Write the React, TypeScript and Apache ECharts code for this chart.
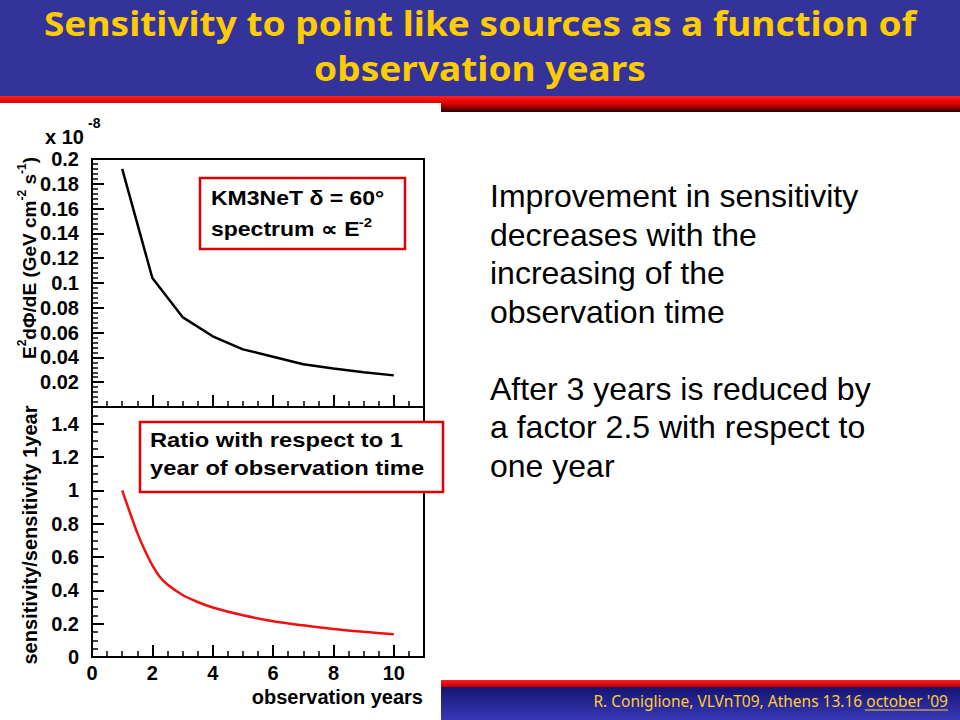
import React, { useEffect, useRef } from "react";
import * as echarts from "echarts";

// ---- data ----
const years = [1, 2, 3, 4, 5, 6, 7, 8, 9, 10];
const sensitivity = [0.192, 0.104, 0.0725, 0.057, 0.0465, 0.0405, 0.0345, 0.031, 0.028, 0.0255];
const ratioYears = [1, 1.25, 1.5, 1.75, 2, 2.25, 2.5, 3, 3.5, 4, 5, 6, 7, 8, 9, 10];
const ratio = [1.0, 0.87, 0.745, 0.64, 0.55, 0.48, 0.435, 0.372, 0.33, 0.297, 0.25, 0.215, 0.19, 0.168, 0.151, 0.136];
const xRange = [0, 11];
const upperYRange = [0, 0.2];
const lowerYRange = [0, 1.5];

const titleLines = ["Sensitivity to point like sources as a function of", "observation years"];
const bodyText = [
  "Improvement in sensitivity",
  "decreases with the",
  "increasing of the",
  "observation time",
  "",
  "After 3 years is reduced by",
  "a factor 2.5 with respect to",
  "one year",
];
const footerMain = "R. Coniglione, VLVnT09, Athens 13.16 ";
const footerUnderlined = "october '09";

const SANS = "'Liberation Sans', Arial, Helvetica, sans-serif";
const GL = 92, GW = 332;
const G1T = 159, G1H = 248;
const G2T = 407, G2H = 250;

const trim = (v: number, d: number) => String(parseFloat(v.toFixed(d)));

export default function App() {
  const ref = useRef<HTMLDivElement>(null);
  useEffect(() => {
    if (!ref.current) return;
    const chart = echarts.init(ref.current, null, { renderer: "svg" });

    const tickStyle = { color: "#000", width: 1.5 };
    const minorX = (gi: number) => ({
      gridIndex: gi, type: "value", position: "bottom", min: xRange[0], max: xRange[1], interval: 0.5,
      axisLine: { show: false }, axisTick: { show: true, inside: true, length: 6, lineStyle: tickStyle },
      axisLabel: { show: false }, splitLine: { show: false },
    });
    const majorX = (gi: number, labels: boolean) => ({
      gridIndex: gi, type: "value", position: "bottom", min: xRange[0], max: xRange[1], interval: 2,
      axisLine: { show: false }, axisTick: { show: true, inside: true, length: 12, lineStyle: { color: "#000", width: 2 } },
      axisLabel: {
        show: labels, showMaxLabel: false, margin: 6, fontSize: 20, fontWeight: "bold", color: "#000", fontFamily: SANS,
        formatter: (v: number) => (v <= 10 ? String(v) : ""),
      },
      splitLine: { show: false },
    });

    const footerFont = "15.5px 'Noto Sans', sans-serif";
    const ulWidth = echarts.format.getTextRect ? 0 : 0;
    void ulWidth;

    const option: any = {
      animation: false,
      backgroundColor: "#fff",
      grid: [
        { left: GL, top: G1T, width: GW, height: G1H, show: true, borderColor: "#000", borderWidth: 2, backgroundColor: "transparent" },
        { left: GL, top: G2T, width: GW, height: G2H, show: true, borderColor: "#000", borderWidth: 2, backgroundColor: "transparent" },
      ],
      xAxis: [minorX(0), majorX(0, false), minorX(1), majorX(1, true)],
      yAxis: [
        {
          gridIndex: 0, type: "value", min: upperYRange[0], max: upperYRange[1], interval: 0.02,
          axisLine: { show: false },
          axisTick: { show: true, inside: true, length: 12, lineStyle: { color: "#000", width: 2 } },
          minorTick: { show: true, splitNumber: 5, length: 6, lineStyle: tickStyle },
          axisLabel: {
            margin: 13, fontSize: 20, fontWeight: "bold", color: "#000", fontFamily: SANS,
            formatter: (v: number) => (v === 0 ? "" : trim(v, 3)),
          },
          splitLine: { show: false },
        },
        {
          gridIndex: 1, type: "value", min: lowerYRange[0], max: lowerYRange[1], interval: 0.2,
          axisLine: { show: false },
          axisTick: { show: true, inside: true, length: 12, lineStyle: { color: "#000", width: 2 } },
          minorTick: { show: true, splitNumber: 4, length: 6, lineStyle: tickStyle },
          axisLabel: {
            margin: 13, fontSize: 20, fontWeight: "bold", color: "#000", fontFamily: SANS, showMaxLabel: false,
            formatter: (v: number) => trim(v, 2),
          },
          splitLine: { show: false },
        },
      ],
      series: [
        {
          type: "line", xAxisIndex: 0, yAxisIndex: 0, showSymbol: false, symbol: "none",
          data: years.map((x, i) => [x, sensitivity[i]]),
          lineStyle: { color: "#000", width: 2.5 },
        },
        {
          type: "line", xAxisIndex: 2, yAxisIndex: 1, showSymbol: false, symbol: "none", smooth: 0.25,
          data: ratioYears.map((x, i) => [x, ratio[i]]),
          lineStyle: { color: "#ee1111", width: 2.5 },
        },
      ],
      graphic: [
        // header
        { type: "rect", shape: { x: 0, y: 0, width: 960, height: 96 }, style: { fill: "#333399" }, z: 1 },
        {
          type: "rect", shape: { x: 0, y: 96, width: 960, height: 7 }, z: 1,
          style: { fill: new echarts.graphic.LinearGradient(0, 0, 0, 1, [{ offset: 0, color: "#ff2020" }, { offset: 1, color: "#dd0000" }]) },
        },
        {
          type: "rect", shape: { x: 441, y: 103, width: 519, height: 9 }, z: 1,
          style: { fill: new echarts.graphic.LinearGradient(0, 0, 0, 1, [{ offset: 0, color: "#ee0000" }, { offset: 1, color: "#2a0000" }]) },
        },
        {
          type: "text", x: 480, y: 23, z: 2, scaleX: 1.09,
          style: { text: titleLines[0], fill: "#ffcc00", font: "bold 34px 'Noto Sans', sans-serif", align: "center", verticalAlign: "middle" },
        },
        {
          type: "text", x: 480, y: 68, z: 2, scaleX: 1.09,
          style: { text: titleLines[1], fill: "#ffcc00", font: "bold 34px 'Noto Sans', sans-serif", align: "center", verticalAlign: "middle" },
        },
        // footer
        {
          type: "rect", shape: { x: 441, y: 680, width: 519, height: 7 }, z: 1,
          style: { fill: new echarts.graphic.LinearGradient(0, 0, 0, 1, [{ offset: 0, color: "#ff2020" }, { offset: 1, color: "#bb0000" }]) },
        },
        {
          type: "rect", shape: { x: 441, y: 687, width: 519, height: 33 }, z: 1,
          style: { fill: new echarts.graphic.LinearGradient(0, 0, 0, 1, [{ offset: 0, color: "#141470" }, { offset: 1, color: "#3838b8" }]) },
        },
        {
          type: "text", x: 948, y: 701, z: 2,
          style: { text: footerMain + footerUnderlined, align: "right", verticalAlign: "middle", fill: "#ffcc33", font: footerFont },
        },
        { type: "line", z: 2, shape: { x1: 865, y1: 710, x2: 948, y2: 710 }, style: { stroke: "#ffcc33", lineWidth: 1 } },
        // x 10^-8
        { type: "text", x: 45, y: 137, z: 5, style: { text: "x 10", fill: "#000", font: "bold 20px " + SANS, verticalAlign: "middle" } },
        { type: "text", x: 88, y: 123, z: 5, style: { text: "-8", fill: "#000", font: "bold 14px " + SANS, verticalAlign: "middle" } },
        // axis titles
        {
          type: "text", x: 29, y: 258, rotation: Math.PI / 2, z: 5,
          style: {
            text: "{m|E}{s|2}{m|dΦ/dE (GeV cm}{s|-2}{m| s}{s|-1}{m|)}", align: "center", verticalAlign: "middle",
            rich: {
              m: { fontSize: 19, fontWeight: "bold", fontFamily: SANS, fill: "#000", lineHeight: 26 },
              s: { fontSize: 12, fontWeight: "bold", fontFamily: SANS, fill: "#000", lineHeight: 12, verticalAlign: "top" },
            },
          },
        },
        {
          type: "text", x: 30, y: 535, rotation: Math.PI / 2, z: 5,
          style: { text: "sensitivity/sensitivity 1year", fill: "#000", font: "bold 20px " + SANS, align: "center", verticalAlign: "middle" },
        },
        {
          type: "text", x: 423, y: 697, z: 5,
          style: { text: "observation years", fill: "#000", font: "bold 20px " + SANS, align: "right", verticalAlign: "middle" },
        },
        // legend box 1
        { type: "rect", z: 20, shape: { x: 200, y: 178, width: 205, height: 71 }, style: { fill: "#fff", stroke: "#e00000", lineWidth: 2.5 } },
        {
          type: "text", z: 21, x: 211, y: 198, scaleX: 1.15,
          style: { text: "KM3NeT δ = 60°", fill: "#000", font: "bold 20px " + SANS, verticalAlign: "middle" },
        },
        {
          type: "text", z: 21, x: 211, y: 229, scaleX: 1.15,
          style: {
            text: "{m|spectrum ∝ E}{s|-2}", verticalAlign: "middle",
            rich: {
              m: { fontSize: 20, fontWeight: "bold", fontFamily: SANS, fill: "#000", lineHeight: 26 },
              s: { fontSize: 13, fontWeight: "bold", fontFamily: SANS, fill: "#000", lineHeight: 13, verticalAlign: "top" },
            },
          },
        },
        // legend box 2
        { type: "rect", z: 20, shape: { x: 140, y: 422, width: 303, height: 70 }, style: { fill: "#fff", stroke: "#e00000", lineWidth: 2.5 } },
        {
          type: "text", z: 21, x: 150, y: 440, scaleX: 1.13,
          style: { text: "Ratio with respect to 1", fill: "#000", font: "bold 21px " + SANS, verticalAlign: "middle" },
        },
        {
          type: "text", z: 21, x: 150, y: 468, scaleX: 1.13,
          style: { text: "year of observation time", fill: "#000", font: "bold 21px " + SANS, verticalAlign: "middle" },
        },
        // right paragraph
        {
          type: "text", z: 5, x: 490, y: 196 - 19.25,
          style: { text: bodyText.join("\n"), fill: "#000", font: "32px " + SANS, lineHeight: 38.5, verticalAlign: "top" },
        },
      ],
    };
    chart.setOption(option);
    return () => chart.dispose();
  }, []);
  return <div ref={ref} style={{ position: "fixed", left: 0, top: 0, width: 960, height: 720 }} />;
}
